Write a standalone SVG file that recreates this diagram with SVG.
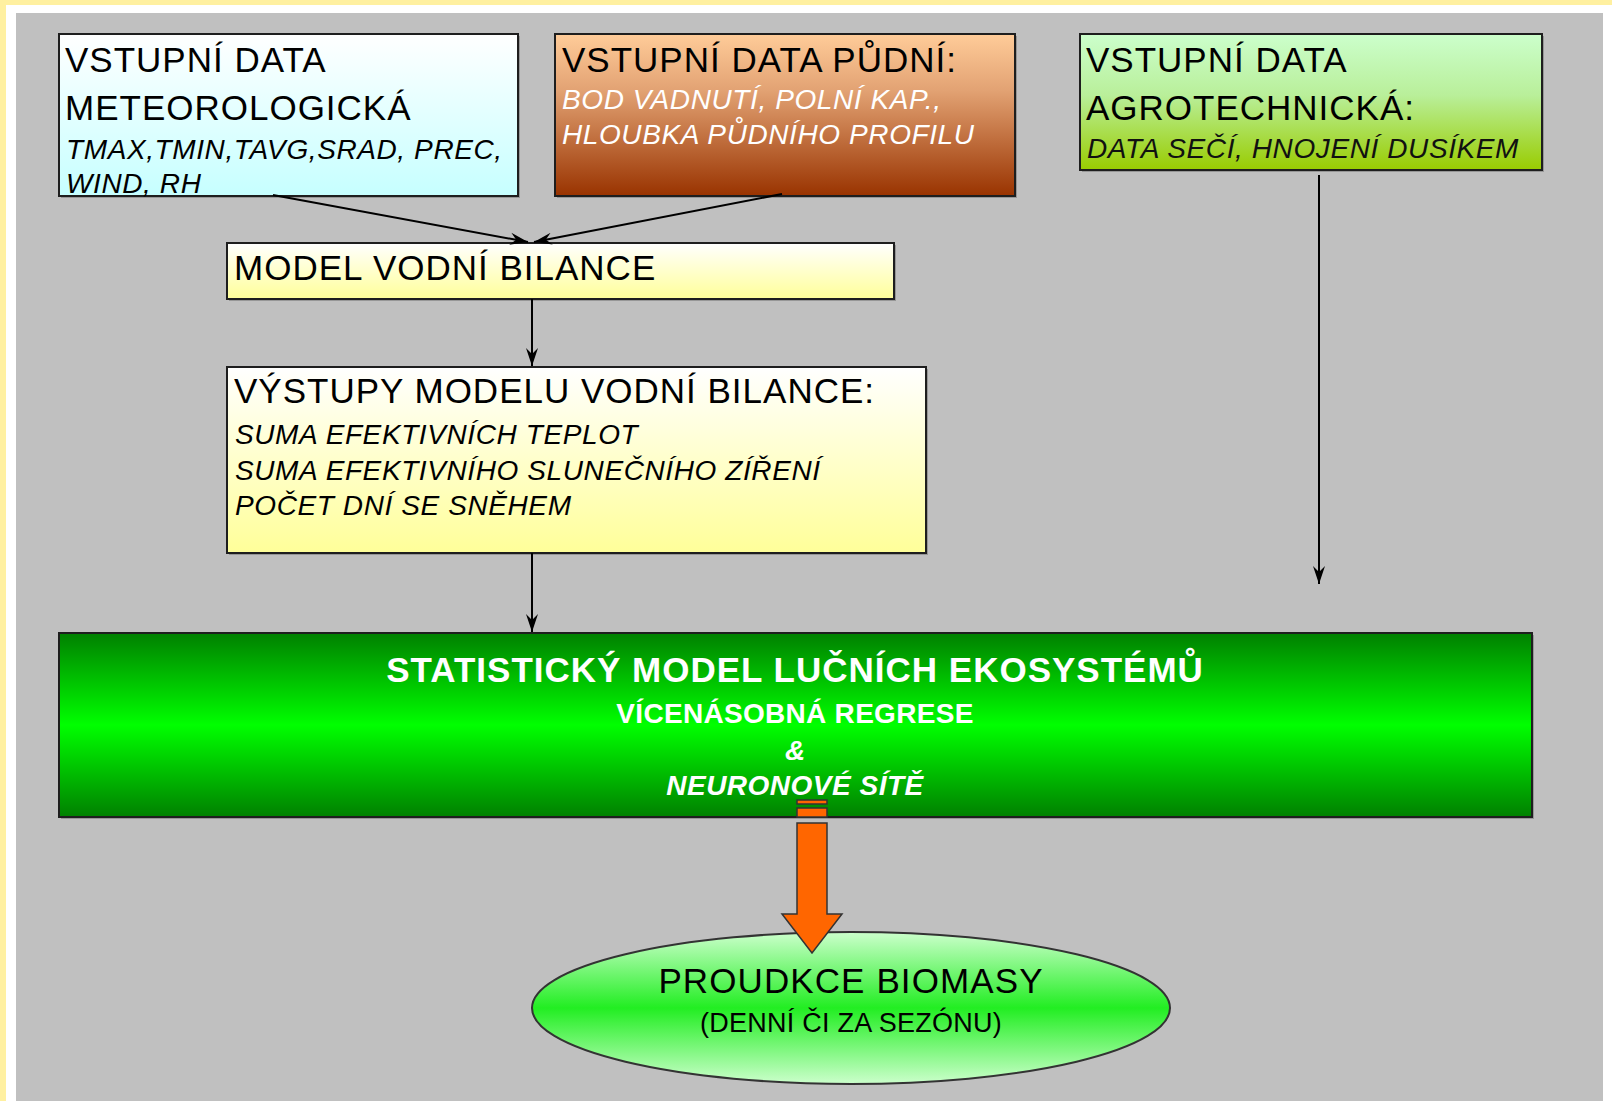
<svg xmlns="http://www.w3.org/2000/svg" width="1612" height="1101" viewBox="0 0 1612 1101">
<defs>
<style>
text{font-family:"Liberation Sans",Arial,sans-serif;}
.t{font-size:35px;fill:#000;letter-spacing:1px;}
.i{font-size:28px;font-style:italic;letter-spacing:0.6px;}
.box{stroke:#1e1e1e;stroke-width:2;}
.sh{fill:#7a7a7a;opacity:0.6;}
.con{stroke:#000;stroke-width:2;fill:none;}
.w{fill:#fff;font-weight:bold;text-anchor:middle;}
</style>
<linearGradient id="gMet" x1="0" y1="0" x2="0" y2="1"><stop offset="0" stop-color="#ffffff"/><stop offset="1" stop-color="#c6ffff"/></linearGradient>
<linearGradient id="gSoil" x1="0" y1="0" x2="0" y2="1"><stop offset="0" stop-color="#ffcc99"/><stop offset="0.35" stop-color="#e2a273"/><stop offset="1" stop-color="#993300"/></linearGradient>
<linearGradient id="gAgro" x1="0" y1="0" x2="0" y2="1"><stop offset="0" stop-color="#ccffcc"/><stop offset="0.45" stop-color="#b9ef9a"/><stop offset="1" stop-color="#99cc00"/></linearGradient>
<linearGradient id="gYel" x1="0" y1="0" x2="0" y2="1"><stop offset="0" stop-color="#ffffff"/><stop offset="1" stop-color="#ffff99"/></linearGradient>
<linearGradient id="gStat" x1="0" y1="0" x2="0" y2="1"><stop offset="0" stop-color="#008000"/><stop offset="0.5" stop-color="#00ff00"/><stop offset="1" stop-color="#008000"/></linearGradient>
<linearGradient id="gEll" x1="0" y1="0" x2="0" y2="1"><stop offset="0" stop-color="#ccffcc"/><stop offset="0.5" stop-color="#22ee22"/><stop offset="1" stop-color="#ccffcc"/></linearGradient>
<marker id="arr" markerUnits="userSpaceOnUse" markerWidth="20" markerHeight="14" viewBox="-18 -7 20 14" refX="0" refY="0" orient="auto">
<path d="M0,0 L-18,-6 L-12,0 L-18,6 Z" fill="#000"/>
</marker>
</defs>

<rect x="0" y="0" width="1612" height="1101" fill="#ffffff"/>
<rect x="0" y="0" width="1612" height="5" fill="#fff0a0"/>
<rect x="0" y="0" width="6" height="1101" fill="#fff0a0"/>
<rect x="16" y="13" width="1587" height="1088" fill="#c0c0c0"/>

<g id="node-meteo">
<rect class="sh" x="61" y="36" width="459" height="162"/>
<rect class="box" x="59" y="34" width="459" height="162" fill="url(#gMet)"/>
<text class="t" x="65" y="72">VSTUPNÍ DATA</text>
<text class="t" x="65" y="120">METEOROLOGICKÁ</text>
<text class="i" x="66" y="159" fill="#000">TMAX,TMIN,TAVG,SRAD, PREC,</text>
<text class="i" x="66" y="193" fill="#000">WIND, RH</text>
</g>

<g id="node-soil">
<rect class="sh" x="557" y="36" width="460" height="162"/>
<rect class="box" x="555" y="34" width="460" height="162" fill="url(#gSoil)"/>
<text class="t" x="562" y="72">VSTUPNÍ DATA PŮDNÍ:</text>
<text class="i" x="562" y="109" fill="#ffffff">BOD VADNUTÍ, POLNÍ KAP.,</text>
<text class="i" x="562" y="144" fill="#ffffff">HLOUBKA PŮDNÍHO PROFILU</text>
</g>

<g id="node-agro">
<rect class="sh" x="1082" y="36" width="462" height="136"/>
<rect class="box" x="1080" y="34" width="462" height="136" fill="url(#gAgro)"/>
<text class="t" x="1086" y="72">VSTUPNÍ DATA</text>
<text class="t" x="1086" y="120">AGROTECHNICKÁ:</text>
<text class="i" x="1087" y="158" fill="#111">DATA SEČÍ, HNOJENÍ DUSÍKEM</text>
</g>

<g id="node-model">
<rect class="sh" x="229" y="245" width="667" height="56"/>
<rect class="box" x="227" y="243" width="667" height="56" fill="url(#gYel)"/>
<text class="t" x="234" y="280">MODEL VODNÍ BILANCE</text>
</g>

<g id="node-outputs">
<rect class="sh" x="229" y="369" width="699" height="186"/>
<rect class="box" x="227" y="367" width="699" height="186" fill="url(#gYel)"/>
<text class="t" x="234" y="403">VÝSTUPY MODELU VODNÍ BILANCE:</text>
<text class="i" x="235" y="444" fill="#000">SUMA EFEKTIVNÍCH TEPLOT</text>
<text class="i" x="235" y="480" fill="#000">SUMA EFEKTIVNÍHO SLUNEČNÍHO ZÍŘENÍ</text>
<text class="i" x="235" y="515" fill="#000">POČET DNÍ SE SNĚHEM</text>
</g>

<g id="node-stat">
<rect class="sh" x="61" y="635" width="1473" height="184"/>
<rect class="box" x="59" y="633" width="1473" height="184" fill="url(#gStat)"/>
<text class="w" x="795" y="682" font-size="35" letter-spacing="1">STATISTICKÝ MODEL LUČNÍCH EKOSYSTÉMŮ</text>
<text class="w" x="795" y="723" font-size="28" letter-spacing="0.3">VÍCENÁSOBNÁ REGRESE</text>
<text class="w" x="795" y="760" font-size="28" font-style="italic">&amp;</text>
<text class="w" x="795" y="795" font-size="28" font-style="italic" letter-spacing="0.5">NEURONOVÉ SÍTĚ</text>
</g>

<g id="node-biomass">
<ellipse cx="851" cy="1008" rx="319" ry="76" fill="url(#gEll)" stroke="#333" stroke-width="2"/>
<text x="851" y="993" font-size="35" text-anchor="middle" fill="#000" letter-spacing="1.1">PROUDKCE BIOMASY</text>
<text x="851" y="1032" font-size="27" text-anchor="middle" fill="#000" letter-spacing="0.25">(DENNÍ ČI ZA SEZÓNU)</text>
</g>

<g id="connectors">
<line class="con" x1="273" y1="195" x2="528" y2="242" marker-end="url(#arr)"/>
<line class="con" x1="782" y1="194" x2="534" y2="242" marker-end="url(#arr)"/>
<line class="con" x1="532" y1="299" x2="532" y2="366" marker-end="url(#arr)"/>
<line class="con" x1="532" y1="553" x2="532" y2="632" marker-end="url(#arr)"/>
<line class="con" x1="1319" y1="175" x2="1319" y2="584" marker-end="url(#arr)"/>
<g id="block-arrow" stroke="#333" stroke-width="1.5" fill="#ff6600">
<rect x="797" y="800" width="30" height="4"/>
<rect x="797" y="808" width="30" height="9"/>
<path d="M797,823 L827,823 L827,914 L842,914 L812,953 L782,914 L797,914 Z"/>
</g>
</g>
</svg>
